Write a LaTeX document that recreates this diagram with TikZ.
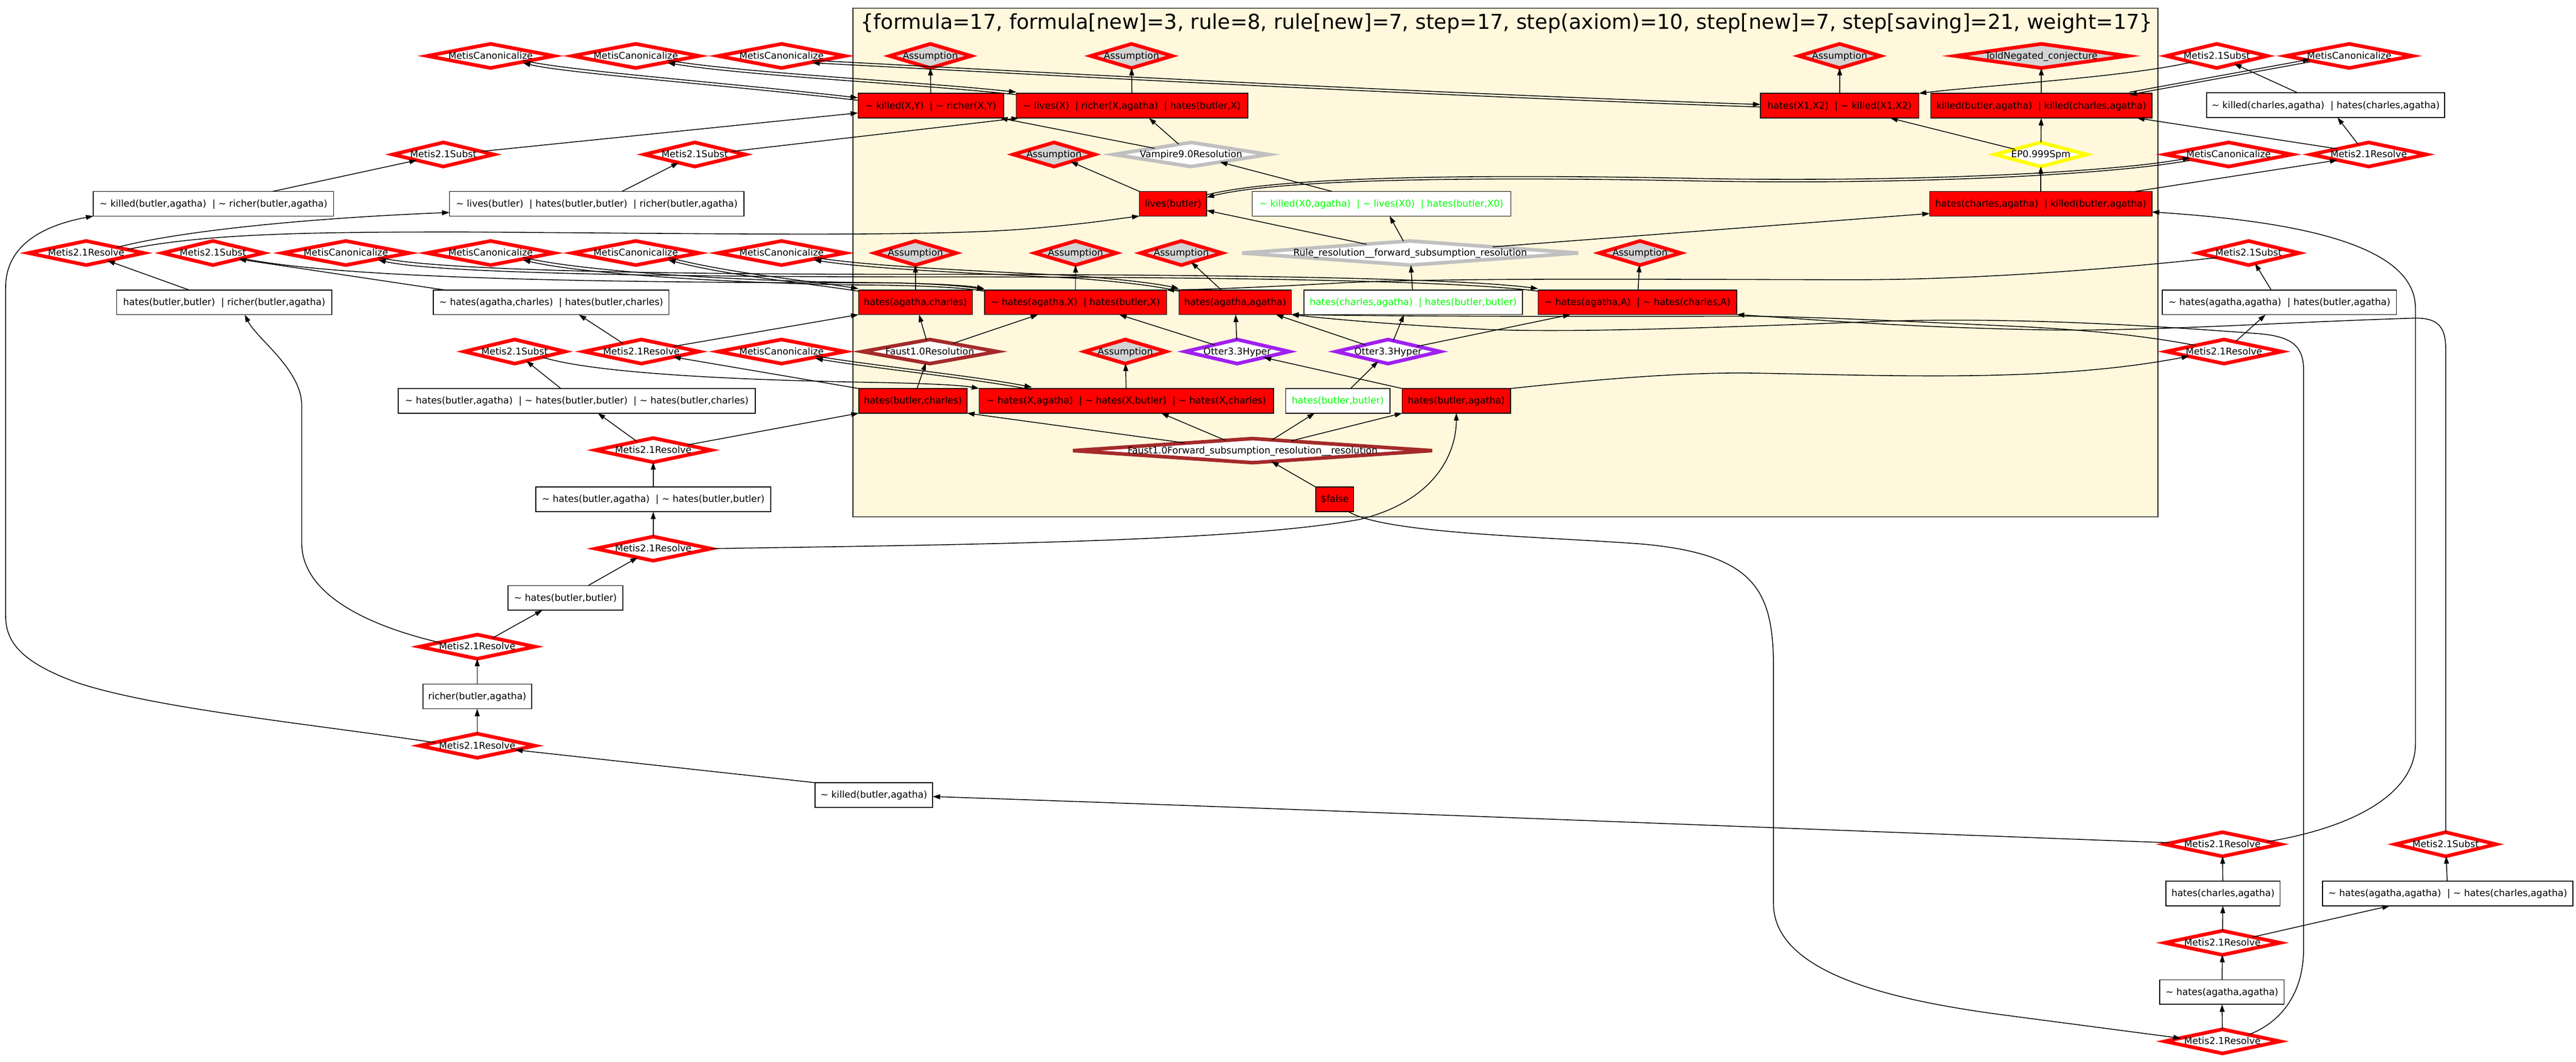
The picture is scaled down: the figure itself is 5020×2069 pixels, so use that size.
\documentclass[tikz,border=0pt]{standalone}
\usepackage{fontspec}
\setmainfont{DejaVu Sans}
\usetikzlibrary{shapes.geometric,arrows.meta,calc}
\definecolor{cred}{RGB}{255,0,0}
\definecolor{cgrey}{RGB}{211,211,211}
\definecolor{csilk}{RGB}{255,248,220}
\definecolor{csilver}{RGB}{192,192,192}
\definecolor{cyel}{RGB}{255,255,0}
\definecolor{cbrown}{RGB}{165,42,42}
\definecolor{cpurp}{RGB}{160,32,240}
\definecolor{cgreen}{RGB}{0,255,0}
\definecolor{cframe}{RGB}{85,85,85}
\newcommand\gneg{\textasciitilde\ }
\newcommand\gsep{\ \ |\ }
\newcommand\ctr[1]{\makebox[0pt]{\raisebox{-0.32em}[0pt][0pt]{#1}}}
\newcommand\dbl[1]{\draw[ed,sA] #1; \draw[eds,sB] #1;}
\tikzset{
 nb/.style={inner sep=0pt, outer sep=0pt, font=\fontsize{10.4pt}{12pt}\selectfont},
 dw/.style={minimum width=#1*0.02cm},
 dia/.style={nb, diamond, line width=0.14cm, minimum height=47*0.02cm},
 dR/.style={dia, draw=cred, fill=white},
 dA/.style={dia, draw=cred, fill=cgrey},
 dG/.style={dia, draw=csilver, fill=white},
 dY/.style={dia, draw=cyel, fill=white},
 dB/.style={dia, draw=cbrown, fill=white},
 dP/.style={dia, draw=cpurp, fill=white},
 bx/.style={nb, rectangle, draw=black, line width=0.9pt, minimum height=48*0.02cm},
 bR/.style={bx, fill=cred},
 bW/.style={bx, fill=white},
 bG/.style={bx, fill=white, text=cgreen},
 ed/.style={draw=black, line width=0.9pt, -{Triangle[length=0.29cm,width=0.19cm]}},
 eds/.style={draw=black, line width=0.9pt, {Triangle[length=0.29cm,width=0.19cm]}-},
 sA/.style={transform canvas={yshift=1.4pt}},
 sB/.style={transform canvas={yshift=-1.4pt}},
}
\begin{document}
\begin{tikzpicture}[x=0.02cm, y=-0.02cm]
\useasboundingbox (0,0) rectangle (5020,2069);
\draw[cframe, line width=0.05cm, fill=csilk] (1662,16) rectangle (4205,1007);
\node[nb, font=\fontsize{22.8pt}{26pt}\selectfont] (title) at (2936,46) {\{formula=17, formula[new]=3, rule=8, rule[new]=7, step=17, step(axiom)=10, step[new]=7, step[saving]=21, weight=17\}};

% row 109
\node[dR,dw=247] (mc1) at (956,109) {\ctr{MetisCanonicalize}};
\node[dR,dw=247] (mc2) at (1239,109) {\ctr{MetisCanonicalize}};
\node[dR,dw=247] (mc3) at (1523,109) {\ctr{MetisCanonicalize}};
\node[dA,dw=159] (as1) at (1813,109) {\ctr{Assumption}};
\node[dA,dw=159] (as2) at (2205,109) {\ctr{Assumption}};
\node[dA,dw=159] (as3) at (3585,109) {\ctr{Assumption}};
\node[dA,dw=336] (tn) at (3978,109) {\ctr{ToldNegated\_conjecture}};
\node[dR,dw=197] (ms1) at (4320,109) {\ctr{Metis2.1Subst}};
\node[dR,dw=247] (mc4) at (4578,109) {\ctr{MetisCanonicalize}};
% row 206
\node[bR,dw=284] (kxy) at (1814,206) {\ctr{\gneg killed(X,Y)\gsep\gneg richer(X,Y)}};
\node[bR,dw=451] (livx) at (2206,206) {\ctr{\gneg lives(X)\gsep richer(X,agatha)\gsep hates(butler,X)}};
\node[bR,dw=309] (hx1) at (3585,206) {\ctr{hates(X1,X2)\gsep\gneg killed(X1,X2)}};
\node[bR,dw=431] (kbkc) at (3978,206) {\ctr{killed(butler,agatha)\gsep killed(charles,agatha)}};
\node[bW,dw=464] (nkc) at (4532,205) {\ctr{\gneg killed(charles,agatha)\gsep hates(charles,agatha)}};
% row 301
\node[dR,dw=197] (ms2) at (864,301) {\ctr{Metis2.1Subst}};
\node[dR,dw=197] (ms3) at (1354,301) {\ctr{Metis2.1Subst}};
\node[dA,dw=159] (as4) at (2054,301) {\ctr{Assumption}};
\node[dG,dw=302] (vamp) at (2321,301) {\ctr{Vampire9.0Resolution}};
\node[dY,dw=179] (ep) at (3977,301) {\ctr{EP0.999Spm}};
\node[dR,dw=247] (mc5) at (4343,301) {\ctr{MetisCanonicalize}};
\node[dR,dw=225] (mr1) at (4616,301) {\ctr{Metis2.1Resolve}};
% row 397
\node[bW,dw=468] (nkb) at (416,397) {\ctr{\gneg killed(butler,agatha)\gsep\gneg richer(butler,agatha)}};
\node[bW,dw=574] (nlb) at (1163,397) {\ctr{\gneg lives(butler)\gsep hates(butler,butler)\gsep richer(butler,agatha)}};
\node[bR,dw=131] (lb) at (2286,397) {\ctr{lives(butler)}};
\node[bG,dw=504] (gk) at (2692,397) {\ctr{\gneg killed(X0,agatha)\gsep\gneg lives(X0)\gsep hates(butler,X0)}};
\node[bR,dw=433] (hcak) at (3977,397) {\ctr{hates(charles,agatha)\gsep killed(butler,agatha)}};
% row 493
\node[dR,dw=225] (mr2) at (168,493) {\ctr{Metis2.1Resolve}};
\node[dR,dw=197] (ms4) at (415,493) {\ctr{Metis2.1Subst}};
\node[dR,dw=247] (mc6) at (674,493) {\ctr{MetisCanonicalize}};
\node[dR,dw=247] (mc7) at (956,493) {\ctr{MetisCanonicalize}};
\node[dR,dw=247] (mc8) at (1239,493) {\ctr{MetisCanonicalize}};
\node[dR,dw=247] (mc9) at (1523,493) {\ctr{MetisCanonicalize}};
\node[dA,dw=159] (as5) at (1784,493) {\ctr{Assumption}};
\node[dA,dw=159] (as6) at (2096,493) {\ctr{Assumption}};
\node[dA,dw=159] (as7) at (2302,493) {\ctr{Assumption}};
\node[dG,dw=655] (rule) at (2748,493) {\ctr{Rule\_resolution\_\_forward\_subsumption\_resolution}};
\node[dA,dw=159] (as8) at (3196,493) {\ctr{Assumption}};
\node[dR,dw=197] (ms5) at (4382,493) {\ctr{Metis2.1Subst}};
% row 589
\node[bW,dw=419] (hbr) at (437,589) {\ctr{hates(butler,butler)\gsep richer(butler,agatha)}};
\node[bW,dw=459] (nhac) at (1074,589) {\ctr{\gneg hates(agatha,charles)\gsep hates(butler,charles)}};
\node[bR,dw=222] (hac) at (1784,589) {\ctr{hates(agatha,charles)}};
\node[bR,dw=355] (nhax) at (2096,589) {\ctr{\gneg hates(agatha,X)\gsep hates(butler,X)}};
\node[bR,dw=219] (haa) at (2407,589) {\ctr{hates(agatha,agatha)}};
\node[bG,dw=426] (gch) at (2754,589) {\ctr{hates(charles,agatha)\gsep hates(butler,butler)}};
\node[bR,dw=387] (nhaA) at (3191,589) {\ctr{\gneg hates(agatha,A)\gsep\gneg hates(charles,A)}};
\node[bW,dw=456] (nhaab) at (4442,589) {\ctr{\gneg hates(agatha,agatha)\gsep hates(butler,agatha)}};
% row 685
\node[dR,dw=197] (ms6) at (1003,685) {\ctr{Metis2.1Subst}};
\node[dR,dw=225] (mr3) at (1250,685) {\ctr{Metis2.1Resolve}};
\node[dR,dw=247] (mc10) at (1523,685) {\ctr{MetisCanonicalize}};
\node[dB,dw=263] (faust) at (1812,685) {\ctr{Faust1.0Resolution}};
\node[dA,dw=159] (as9) at (2193,685) {\ctr{Assumption}};
\node[dP,dw=203] (ot1) at (2411,685) {\ctr{Otter3.3Hyper}};
\node[dP,dw=203] (ot2) at (2705,685) {\ctr{Otter3.3Hyper}};
\node[dR,dw=225] (mr4) at (4334,685) {\ctr{Metis2.1Resolve}};
% row 781
\node[bW,dw=696] (nhbbb) at (1124,781) {\ctr{\gneg hates(butler,agatha)\gsep\gneg hates(butler,butler)\gsep\gneg hates(butler,charles)}};
\node[bR,dw=211] (hbc) at (1779,781) {\ctr{hates(butler,charles)}};
\node[bR,dw=574] (nhx) at (2195,781) {\ctr{\gneg hates(X,agatha)\gsep\gneg hates(X,butler)\gsep\gneg hates(X,charles)}};
\node[bG,dw=203] (ghbb) at (2607,781) {\ctr{hates(butler,butler)}};
\node[bR,dw=211] (hba) at (2838,781) {\ctr{hates(butler,agatha)}};
% row 877
\node[dR,dw=225] (mr5) at (1273,877) {\ctr{Metis2.1Resolve}};
\node[dB,dw=700] (ffw) at (2441,878) {\ctr{Faust1.0Forward\_subsumption\_resolution\_\_resolution}};
% lower
\node[bW,dw=458] (nhbab) at (1273,973) {\ctr{\gneg hates(butler,agatha)\gsep\gneg hates(butler,butler)}};
\node[bR,dw=74] (fls) at (2601,973) {\ctr{\$false}};
\node[dR,dw=225] (mr6) at (1273,1069) {\ctr{Metis2.1Resolve}};
\node[bW,dw=224] (nhbb) at (1102,1165) {\ctr{\gneg hates(butler,butler)}};
\node[dR,dw=225] (mr7) at (930,1260) {\ctr{Metis2.1Resolve}};
\node[bW,dw=212] (rba) at (930,1357) {\ctr{richer(butler,agatha)}};
\node[dR,dw=225] (mr8) at (930,1453) {\ctr{Metis2.1Resolve}};
\node[bW,dw=229] (nkba) at (1703,1549) {\ctr{\gneg killed(butler,agatha)}};
\node[dR,dw=225] (mr9) at (4331,1645) {\ctr{Metis2.1Resolve}};
\node[dR,dw=197] (ms7) at (4766,1645) {\ctr{Metis2.1Subst}};
\node[bW,dw=222] (hca) at (4332,1741) {\ctr{hates(charles,agatha)}};
\node[bW,dw=488] (nhaca) at (4770,1741) {\ctr{\gneg hates(agatha,agatha)\gsep\gneg hates(charles,agatha)}};
\node[dR,dw=225] (mr10) at (4331,1837) {\ctr{Metis2.1Resolve}};
\node[bW,dw=242] (nhaa) at (4330,1933) {\ctr{\gneg hates(agatha,agatha)}};
\node[dR,dw=225] (mr11) at (4331,2029) {\ctr{Metis2.1Resolve}};

% ---------- edges ----------
% assumptions
\draw[ed] (kxy) -- (as1);
\draw[ed] (livx) -- (as2);
\draw[ed] (hx1) -- (as3);
\draw[ed] (kbkc) -- (tn);
\draw[ed] (lb.north west) -- (as4);
\draw[ed] (hac) -- (as5);
\draw[ed] (nhax) -- (as6);
\draw[ed] ($(haa.north)+(-27,0)$) -- (as7);
\draw[ed] (nhaA) -- (as8);
\draw[ed] (nhx) -- (as9);
% top right
\draw[ed] ($(nkc.north)+(-54,0)$) -- (ms1);
\draw[ed] ($(ms1)+(-50,12)$) .. controls (4150,150) and (3850,168) .. (hx1.north east);
\dbl{($(kbkc.north)+(172,0)$) -- ($(mc4)+(-76,9)$)}
\draw[ed] ($(mr1)+(-61,-11)$) -- ($(kbkc.south east)+(-29,0)$);
\draw[ed] ($(mr1)+(-20,-19)$) -- ($(nkc.south)+(23,0)$);
\draw[ed] ($(ep)+(-50,-10)$) -- ($(hx1.south east)+(-56,0)$);
\draw[ed] (ep) -- (kbkc);
\draw[ed] (hcak) -- (ep);
\draw[ed] ($(hcak.north east)+(-33,0)$) -- ($(mr1)+(-61,11)$);
\dbl{($(lb.east)+(0,-15)$) .. controls (2500,345) and (2900,342) .. (3300,350) .. controls (3700,358) and (4100,340) .. ($(mc5)+(-75,9)$)}
\draw[ed] ($(mr9)+(87,-5)$) .. controls (4600,1610) and (4707,1540) .. (4707,1450) -- (4707,600) .. controls (4707,470) and (4450,430) .. ($(hcak.east)+(0,16)$);
% right side long lines
\draw[ed] ($(mr11)+(51,-13)$) .. controls (4450,1990) and (4489,1930) .. (4489,1850) -- (4489,720) .. controls (4489,670) and (4460,655) .. (4400,650) .. controls (4200,635) and (3900,615) .. (3614,628) .. controls (3300,640) and (3050,648) .. (2900,642) .. controls (2700,632) and (2580,620) .. (haa.south east);
\draw[ed] (ms7.north) -- (4766,680) .. controls (4766,635) and (4750,618) .. (4700,620) .. controls (4450,628) and (4200,645) .. (4000,643) .. controls (3700,638) and (3500,620) .. (nhaA.south east);
\draw[ed] ($(mr4)+(-56,-12)$) .. controls (4200,658) and (4100,645) .. (3950,637) .. controls (3700,625) and (3500,616) .. (3390,616) .. controls (3000,617) and (2700,616) .. (haa.south east);
\draw[ed] (hba.north east) .. controls (3150,735) and (3300,725) .. (3420,727) .. controls (3700,732) and (4000,745) .. ($(mr4)+(-68,9)$);
\draw[ed] ($(nhaab.north)+(-16,0)$) -- (ms5);
\draw[ed] ($(mr4)+(22,-19)$) -- ($(nhaab.south)+(-27,0)$);
\draw[ed] ($(ms5)+(-62,9)$) .. controls (4200,515) and (3900,545) .. (3614,545) .. controls (3300,545) and (2800,540) .. (2600,552) .. controls (2450,560) and (2350,564) .. (nhax.north east);
% otter
\draw[ed] ($(ot1)+(-44,-13)$) -- ($(nhax.south)+(85,0)$);
\draw[ed] (ot1) -- (haa);
\draw[ed] (hba.north west) -- (ot1);
\draw[ed] ($(ghbb.north)+(25,0)$) -- (ot2);
\draw[ed] ($(ot2)+(-44,-13)$) -- ($(haa.south east)+(-30,0)$);
\draw[ed] ($(ot2)+(10,-21)$) -- ($(gch.south)+(-18,0)$);
\draw[ed] ($(ot2)+(56,-10)$) -- ($(nhaA.south west)+(63,0)$);
% faust forward
\draw[ed] (fls.north west) -- (ffw);
\draw[ed] ($(ffw)+(-132,-15)$) -- (hbc.south east);
\draw[ed] ($(ffw)+(-53,-20)$) -- ($(nhx.south)+(68,0)$);
\draw[ed] ($(ffw)+(38,-21)$) -- ($(ghbb.south)+(-45,0)$);
\draw[ed] ($(ffw)+(75,-19)$) -- (hba.south west);
\draw[ed] ($(fls.south east)+(-10,0)$) .. controls (2700,1040) and (3000,1045) .. (3200,1060) .. controls (3420,1080) and (3456,1150) .. (3456,1300) -- (3456,1760) .. controls (3456,1900) and (3700,1950) .. (3900,1977) -- ($(mr11)+(-81,-6)$);
\draw[ed] (mr6.east) .. controls (1800,1062) and (2400,1058) .. (2650,1012) .. controls (2800,975) and (2838,880) .. (hba.south);
% lower chains
\draw[ed] (nkba.north west) -- (mr8);
\draw[ed] ($(mr9.west)+(8,-3)$) .. controls (3500,1615) and (2500,1575) .. ($(nkba.east)+(0,3)$);
\draw[ed] (hca) -- (mr9);
\draw[ed] (mr10) -- (hca);
\draw[ed] ($(mr10)+(58,-11)$) -- ($(nhaca.south)+(-113,0)$);
\draw[ed] (nhaa) -- (mr10);
\draw[ed] (mr11) -- (nhaa);
\draw[ed] (nhaca) -- (ms7);
\draw[ed] (mr8) -- (rba);
\draw[ed] (rba) -- (mr7);
\draw[ed] ($(mr7)+(30,-17)$) -- ($(nhbb.south)+(-45,0)$);
\draw[ed] ($(nhbb.north)+(44,0)$) -- (mr6);
\draw[ed] (mr6) -- (nhbab);
\draw[ed] (nhbab) -- (mr5);
\draw[ed] ($(mr5)+(-32,-17)$) -- ($(nhbbb.south)+(41,0)$);
\draw[ed] ($(mr5)+(66,-10)$) -- (hbc.south west);
\draw[ed] ($(nhbbb.north)+(-31,0)$) -- (ms6);
\draw[ed] ($(ms6)+(54,11)$) .. controls (1150,725) and (1400,740) .. (1700,745) .. controls (1800,747) and (1870,750) .. (nhx.north west);
\dbl{($(mc10)+(66,11)$) .. controls (1700,715) and (1900,735) .. ($(nhx.north west)+(103,0)$)}
\draw[ed] ($(mr3)+(-36,-16)$) -- ($(nhac.south)+(54,0)$);
\draw[ed] ($(mr3)+(62,-10)$) -- (hac.south west);
\draw[ed] (hbc.north west) -- (mr3);
\draw[ed] ($(hbc.north)+(8,0)$) -- (faust);
\draw[ed] (faust) -- (hac);
\draw[ed] ($(faust)+(45,-16)$) -- ($(nhax.south)+(-73,0)$);
% rule / vampire
\draw[ed] (gch) -- (rule);
\draw[ed] ($(rule)+(-85,-17)$) -- ($(lb.east)+(0,13)$);
\draw[ed] ($(rule)+(-13,-23)$) -- ($(gk.south)+(16,0)$);
\draw[ed] ($(rule)+(161,-12)$) -- ($(hcak.west)+(0,19)$);
\draw[ed] ($(gk.north)+(-96,0)$) -- (vamp);
\draw[ed] ($(vamp)+(-24,-20)$) -- ($(livx.south)+(33,0)$);
\draw[ed] ($(vamp)+(-71,-12)$) -- ($(kxy.south east)+(-7,0)$);
% left side
\draw[ed] ($(ms2)+(74,-6)$) -- ($(kxy.west)+(0,14)$);
\draw[ed] ($(ms3)+(72,-6)$) -- ($(livx.south west)+(5,0)$);
\draw[ed] ($(nkb.north)+(115,0)$) -- (ms2);
\draw[ed] ($(nlb.north)+(49,0)$) -- (ms3);
\draw[ed] ($(mr2)+(60,-11)$) .. controls (350,450) and (600,425) .. ($(nlb.west)+(0,17)$);
\draw[ed] ($(mr2)+(80,-7)$) .. controls (400,455) and (600,452) .. (900,452) .. controls (1400,455) and (1800,462) .. (2000,446) .. controls (2120,436) and (2180,426) .. (lb.south west);
\draw[ed] ($(hbr.north west)+(141,0)$) -- (mr2);
\draw[ed] ($(nhac.north west)+(22,0)$) -- ($(ms4)+(50,12)$);
\draw[ed] ($(ms4)+(55,10)$) .. controls (650,540) and (1100,551) .. (1700,551) .. controls (1800,551) and (1880,557) .. (nhax.north west);
\draw[ed] ($(mr8)+(-82,-6)$) .. controls (600,1410) and (300,1380) .. (150,1330) .. controls (40,1290) and (11,1250) .. (11,1200) -- (11,560) .. controls (11,480) and (80,440) .. (nkb.south west);
\draw[ed] ($(mr7)+(-73,-8)$) .. controls (720,1220) and (590,1160) .. (588,1060) -- (588,790) .. controls (588,720) and (500,660) .. ($(hbr.south)+(40,0)$);
% canonicalize doubles
\dbl{($(mc1)+(63,11)$) .. controls (1100,140) and (1400,162) .. ($(kxy.west)+(0,-13)$)}
\dbl{($(mc2)+(62,11)$) .. controls (1450,145) and (1800,162) .. (livx.north west)}
\dbl{($(mc3)+(60,11)$) .. controls (2000,142) and (2800,185) .. (hx1.west)}
\dbl{($(mc6)+(63,11)$) .. controls (850,530) and (1300,537) .. (1800,537) .. controls (2400,537) and (2850,545) .. (nhaA.north west)}
\dbl{($(mc7)+(63,11)$) .. controls (1150,535) and (1500,552) .. (1700,553) .. controls (1800,554) and (1880,558) .. (nhax.north west)}
\dbl{($(mc8)+(63,11)$) .. controls (1420,535) and (1580,550) .. (hac.north west)}
\dbl{($(mc9)+(63,11)$) .. controls (1700,522) and (1900,530) .. (2100,540) .. controls (2200,548) and (2260,556) .. (haa.north west)}
\end{tikzpicture}
\end{document}
